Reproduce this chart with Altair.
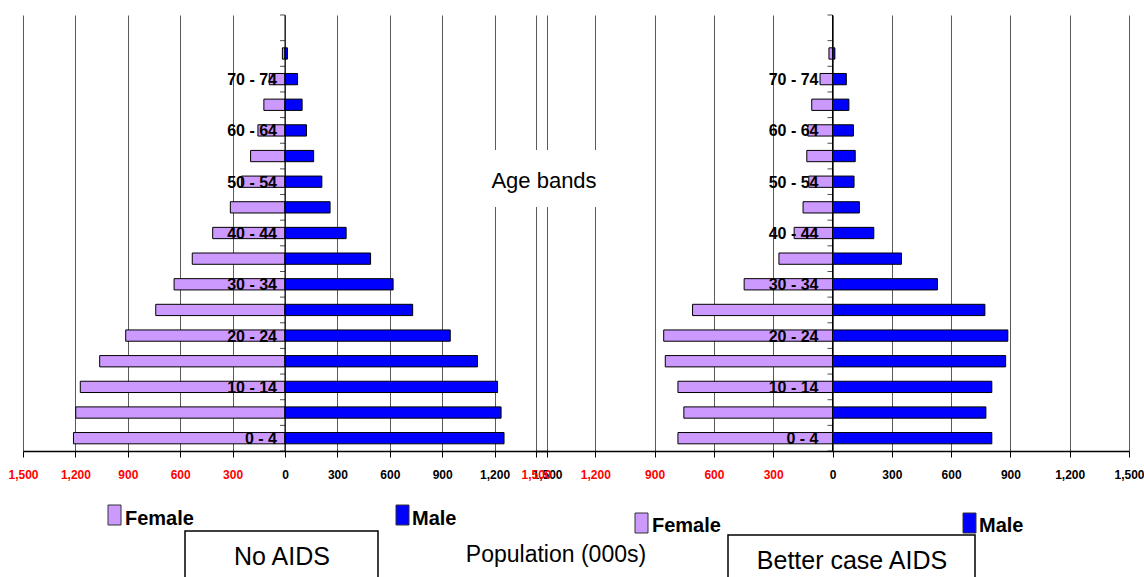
import altair as alt
import pandas as pd

# Five-year age bands, youngest first
AGE_BANDS = ["0 - 4", "5 - 9", "10 - 14", "15 - 19", "20 - 24", "25 - 29", "30 - 34",
             "35 - 39", "40 - 44", "45 - 49", "50 - 54", "55 - 59", "60 - 64",
             "65 - 69", "70 - 74", "75+"]

# Population (000s) without AIDS
NO_AIDS_FEMALE = [1211, 1198, 1172, 1061, 912, 740, 635, 531, 414, 313, 250, 197, 155, 121, 90, 15]
NO_AIDS_MALE = [1254, 1237, 1217, 1102, 946, 731, 619, 490, 350, 258, 211, 164, 123, 98, 72, 14]

# Population (000s), better case AIDS scenario
BETTER_FEMALE = [782, 752, 782, 846, 854, 708, 447, 271, 194, 149, 120, 130, 125, 105, 63, 18]
BETTER_MALE = [806, 776, 806, 876, 887, 771, 531, 349, 209, 136, 109, 115, 106, 83, 70, 12]

X_TICKS = [-1500, -1200, -900, -600, -300, 0, 300, 600, 900, 1200, 1500]

FEMALE_COLOR = "#CC99FF"
MALE_COLOR = "#0000FF"
SANS = "Liberation Sans, Arial, sans-serif"

N = len(AGE_BANDS)
Y_SCALE = alt.Scale(domain=[-0.5, N + 0.5], nice=False, zero=False)
HALF_BAR = 0.22

ONE = pd.DataFrame({"_": [0]})


def panel(female, male, x_range, label_dx):
    sx = alt.Scale(domain=[-1500, 1500], range=x_range, nice=False, zero=False)
    ax = alt.Axis(
        values=X_TICKS, title=None, orient="bottom",
        labelExpr="format(abs(datum.value), ',')",
        labelColor={"condition": {"test": "datum.value < 0", "value": "#FF0000"}, "value": "black"},
        labelFont=SANS, labelFontWeight="bold", labelFontSize=12, labelPadding=12,
        labelFlush=False, labelOverlap=False,
        tickColor="black", tickSize=6, tickWidth=1,
        domainColor="black", domainWidth=1.5,
        grid=True, gridColor="#5a5a5a", gridWidth=1,
    )

    df = pd.DataFrame({"band": AGE_BANDS, "idx": list(range(N)),
                       "female": female, "male": male})
    base = alt.Chart(df).transform_calculate(
        y0=f"datum.idx - {HALF_BAR}", y1=f"datum.idx + {HALF_BAR}",
        fneg="-datum.female", zero="0",
    )
    y_bar = alt.Y("y0:Q", scale=Y_SCALE, axis=None)

    female_bars = base.mark_bar(fill=FEMALE_COLOR, stroke="black", strokeWidth=1).encode(
        x=alt.X("fneg:Q", scale=sx, axis=ax), x2="zero:Q", y=y_bar, y2="y1:Q")
    male_bars = base.mark_bar(fill=MALE_COLOR, stroke="black", strokeWidth=1).encode(
        x=alt.X("zero:Q", scale=sx, axis=ax), x2="male:Q", y=y_bar, y2="y1:Q")

    # vertical category axis through zero
    axis_df = pd.DataFrame({"x": [0], "y0": [-0.5], "y1": [N + 0.5]})
    axis_line = alt.Chart(axis_df).mark_rule(color="black", strokeWidth=1).encode(
        x=alt.X("x:Q", scale=sx, axis=ax),
        y=alt.Y("y0:Q", scale=Y_SCALE, axis=None), y2="y1:Q")

    tick_df = pd.DataFrame({"x": [0] * (N + 2), "y": [i - 0.5 for i in range(N + 2)]})
    ticks = alt.Chart(tick_df).mark_tick(orient="horizontal", color="black", size=5,
                                         thickness=1, xOffset=-2.5).encode(
        x=alt.X("x:Q", scale=sx, axis=ax),
        y=alt.Y("y:Q", scale=Y_SCALE, axis=None))

    labels = base.transform_filter("datum.idx % 2 == 0 && datum.idx < 15").mark_text(
        align="right", baseline="middle", dx=label_dx, dy=1,
        font=SANS, fontWeight="bold", fontSize=16, color="black").encode(
        x=alt.X("zero:Q", scale=sx, axis=ax),
        y=alt.Y("idx:Q", scale=Y_SCALE, axis=None),
        text="band:N")

    return alt.layer(female_bars, male_bars, axis_line, ticks, labels)


def swatch(x, y, color):
    return alt.Chart(ONE).mark_rect(fill=color, stroke="#333333", strokeWidth=1).encode(
        x=alt.value(x), x2=alt.value(x + 13), y=alt.value(y), y2=alt.value(y + 20))


def text(label, x, y, size, weight="normal", align="left", baseline="alphabetic"):
    return alt.Chart(ONE).mark_text(text=label, font=SANS, fontWeight=weight, fontSize=size,
                                    align=align, baseline=baseline, color="black").encode(
        x=alt.value(x), y=alt.value(y))


def box(x0, x1, y0, y1):
    return alt.Chart(ONE).mark_rect(fill="white", stroke="black", strokeWidth=1.5).encode(
        x=alt.value(x0), x2=alt.value(x1), y=alt.value(y0), y2=alt.value(y1))


left = panel(NO_AIDS_FEMALE, NO_AIDS_MALE, [0, 524], -8)
right = panel(BETTER_FEMALE, BETTER_MALE, [513, 1106], -14)

age_box = alt.Chart(ONE).mark_rect(fill="white").encode(
    x=alt.value(430), x2=alt.value(606), y=alt.value(135), y2=alt.value(192))

annotations = [
    age_box,
    text("Age bands", 521, 166, 22, align="center", baseline="middle"),
    swatch(85, 490, FEMALE_COLOR),
    text("Female", 102, 510, 20, weight="bold"),
    swatch(373, 490, MALE_COLOR),
    text("Male", 389, 510, 20, weight="bold"),
    swatch(612, 498, FEMALE_COLOR),
    text("Female", 629, 517, 20, weight="bold"),
    swatch(940, 498, MALE_COLOR),
    text("Male", 956, 517, 20, weight="bold"),
    box(162, 355, 516, 575),
    text("No AIDS", 259, 542, 25, align="center", baseline="middle"),
    text("Population (000s)", 533, 540, 23, align="center", baseline="middle"),
    box(705, 952, 520, 575),
    text("Better case AIDS", 829, 546, 25, align="center", baseline="middle"),
]

chart = alt.layer(left, right, *annotations).resolve_scale(
    x="independent").resolve_axis(x="independent").properties(
    width=1106, height=436,
    autosize=alt.AutoSizeParams(type="none"),
    padding={"left": 23, "top": 15, "right": 15, "bottom": 126},
    background="white",
).configure_view(stroke=None)

chart.save("out.html", embed_options={"renderer": "svg", "actions": False})
